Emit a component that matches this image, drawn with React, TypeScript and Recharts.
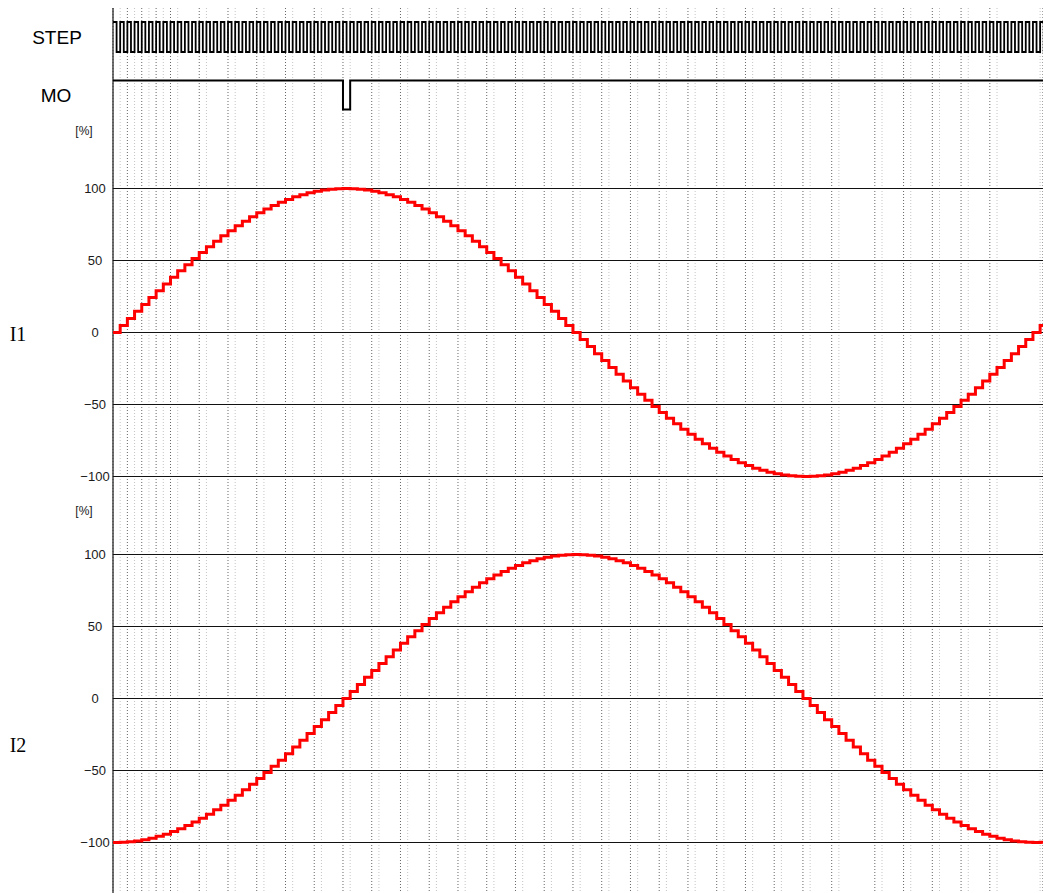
import { LineChart, Line, XAxis, YAxis, CartesianGrid, ReferenceLine } from "recharts";

// coil current in % for microstep k = 0..130 (1/32 step, one STEP pulse per microstep)
const I1_PERCENT = [
  0, 4.9, 9.8, 14.7, 19.5, 24.3, 29.0, 33.7, 38.3, 42.8, 47.1, 51.4, 55.6, 59.6, 63.4, 67.2,
  70.7, 74.1, 77.3, 80.3, 83.1, 85.8, 88.2, 90.4, 92.4, 94.2, 95.7, 97.0, 98.1, 98.9, 99.5, 99.9,
  100, 99.9, 99.5, 98.9, 98.1, 97.0, 95.7, 94.2, 92.4, 90.4, 88.2, 85.8, 83.1, 80.3, 77.3, 74.1,
  70.7, 67.2, 63.4, 59.6, 55.6, 51.4, 47.1, 42.8, 38.3, 33.7, 29.0, 24.3, 19.5, 14.7, 9.8, 4.9,
  0, -4.9, -9.8, -14.7, -19.5, -24.3, -29.0, -33.7, -38.3, -42.8, -47.1, -51.4, -55.6, -59.6, -63.4, -67.2,
  -70.7, -74.1, -77.3, -80.3, -83.1, -85.8, -88.2, -90.4, -92.4, -94.2, -95.7, -97.0, -98.1, -98.9, -99.5, -99.9,
  -100, -99.9, -99.5, -98.9, -98.1, -97.0, -95.7, -94.2, -92.4, -90.4, -88.2, -85.8, -83.1, -80.3, -77.3, -74.1,
  -70.7, -67.2, -63.4, -59.6, -55.6, -51.4, -47.1, -42.8, -38.3, -33.7, -29.0, -24.3, -19.5, -14.7, -9.8, -4.9,
  0, 4.9, 9.8,
];

const I2_PERCENT = [
  -100, -99.9, -99.5, -98.9, -98.1, -97.0, -95.7, -94.2, -92.4, -90.4, -88.2, -85.8, -83.1, -80.3, -77.3, -74.1,
  -70.7, -67.2, -63.4, -59.6, -55.6, -51.4, -47.1, -42.8, -38.3, -33.7, -29.0, -24.3, -19.5, -14.7, -9.8, -4.9,
  0, 4.9, 9.8, 14.7, 19.5, 24.3, 29.0, 33.7, 38.3, 42.8, 47.1, 51.4, 55.6, 59.6, 63.4, 67.2,
  70.7, 74.1, 77.3, 80.3, 83.1, 85.8, 88.2, 90.4, 92.4, 94.2, 95.7, 97.0, 98.1, 98.9, 99.5, 99.9,
  100, 99.9, 99.5, 98.9, 98.1, 97.0, 95.7, 94.2, 92.4, 90.4, 88.2, 85.8, 83.1, 80.3, 77.3, 74.1,
  70.7, 67.2, 63.4, 59.6, 55.6, 51.4, 47.1, 42.8, 38.3, 33.7, 29.0, 24.3, 19.5, 14.7, 9.8, 4.9,
  0, -4.9, -9.8, -14.7, -19.5, -24.3, -29.0, -33.7, -38.3, -42.8, -47.1, -51.4, -55.6, -59.6, -63.4, -67.2,
  -70.7, -74.1, -77.3, -80.3, -83.1, -85.8, -88.2, -90.4, -92.4, -94.2, -95.7, -97.0, -98.1, -98.9, -99.5, -99.9,
  -100, -99.9, -99.5,
];

// STEP: high for the first half of every microstep
const STEP_PATTERN = [1, 0];
const STEP_PULSES = 131;

// MO goes low for one microstep at k = 32
const MO_EDGES = [0, 32, 33, 131];
const MO_LEVELS = [1, 0, 1, 1];

const CURRENT_TICKS = [-100, -50, 0, 50, 100];

// layout
const W = 1043;
const H = 893;
const PLOT_LEFT = 113;
const PLOT_TOP = 8;
const STEP_PX = 7.187;
const X_MAX = (W - PLOT_LEFT) / STEP_PX;

// domain so that value 0 lands on pixel zeroY, pxPerUnit pixels per unit
function bandDomain(zeroY: number, pxPerUnit: number): [number, number] {
  return [-(H - zeroY) / pxPerUnit, (zeroY - PLOT_TOP) / pxPerUnit];
}

const currentData = I1_PERCENT.map((i1, k) => ({ k, i1, i2: I2_PERCENT[k] }));

const stepData: { k: number; step: number }[] = [];
for (let p = 0; p < STEP_PULSES; p++) {
  STEP_PATTERN.forEach((level, i) => stepData.push({ k: p + i / STEP_PATTERN.length, step: level }));
}

const moData = MO_EDGES.map((k, i) => ({ k, mo: MO_LEVELS[i] }));

const majorGrid = currentData.filter((d) => d.k % 2 === 0).map((d) => d.k);
const minorGrid = currentData.filter((d) => d.k % 2 === 1).map((d) => d.k);

const SANS = "'Liberation Sans', Arial, sans-serif";
const SERIF = "'Liberation Serif', 'Times New Roman', serif";

function fmtTick(v: number) {
  return v < 0 ? `\u2212${Math.abs(v)}` : `${v}`;
}

function sideText(text: string, dx: number, style: Record<string, any>) {
  return (props: any) => {
    const vb = props.viewBox || {};
    return (
      <text
        x={vb.x - dx}
        y={vb.y}
        textAnchor="middle"
        dominantBaseline="central"
        {...style}
      >
        {text}
      </text>
    );
  };
}

const tickStyle = { fontSize: 13, fill: "#1a1a1a", fontFamily: SANS };
const unitStyle = { fontSize: 12, fill: "#1a1a1a", fontFamily: SANS };
const nameStyle = { fontSize: 19, fill: "#000", fontFamily: SANS };
const coilStyle = { fontSize: 20, fill: "#000", fontFamily: SERIF };

function currentRefs(axisId: string, unitAt: number, name: string, nameAt: number) {
  return [
    ...CURRENT_TICKS.map((v) => (
      <ReferenceLine
        key={`${axisId}-${v}`}
        yAxisId={axisId}
        y={v}
        stroke="#111"
        strokeWidth={1}
        label={sideText(fmtTick(v), 18, tickStyle)}
      />
    )),
    <ReferenceLine
      key={`${axisId}-unit`}
      yAxisId={axisId}
      y={unitAt}
      stroke="none"
      label={sideText("[%]", 29, unitStyle)}
    />,
    <ReferenceLine
      key={`${axisId}-name`}
      yAxisId={axisId}
      y={nameAt}
      stroke="none"
      label={sideText(name, 95, coilStyle)}
    />,
  ];
}

export default function App() {
  return (
    <div style={{ position: "absolute", left: 0, top: 0, width: W, height: H, background: "#fff" }}>
      <LineChart width={W} height={H} margin={{ top: PLOT_TOP, right: 0, bottom: 0, left: PLOT_LEFT }}>
        <XAxis dataKey="k" type="number" domain={[0, X_MAX]} allowDataOverflow ticks={majorGrid} hide />
        <XAxis xAxisId="minor" dataKey="k" type="number" domain={[0, X_MAX]} allowDataOverflow ticks={minorGrid} hide />
        <YAxis yAxisId="step" type="number" domain={bandDomain(52, 30)} allowDataOverflow hide />
        <YAxis yAxisId="mo" type="number" domain={bandDomain(109.5, 29)} allowDataOverflow hide />
        <YAxis yAxisId="i1" type="number" domain={bandDomain(332.5, 1.44)} allowDataOverflow hide />
        <YAxis yAxisId="i2" type="number" domain={bandDomain(698.5, 1.44)} allowDataOverflow hide />

        <CartesianGrid xAxisId="minor" yAxisId="i1" horizontal={false} stroke="#c4c4c4" strokeDasharray="1 2" />
        <CartesianGrid yAxisId="i1" horizontal={false} stroke="#666" strokeDasharray="1 2" />

        <ReferenceLine yAxisId="i1" x={0} stroke="#444" strokeWidth={1.5} />

        <ReferenceLine yAxisId="step" y={0.5} stroke="none" label={sideText("STEP", 56, nameStyle)} />
        <ReferenceLine yAxisId="mo" y={0.5} stroke="none" label={sideText("MO", 57, nameStyle)} />

        {currentRefs("i1", 140, "I1", -1)}
        {currentRefs("i2", 130, "I2", -32)}

        <Line
          yAxisId="step"
          data={stepData}
          dataKey="step"
          type="stepAfter"
          stroke="#000"
          strokeWidth={1.8}
          dot={false}
          isAnimationActive={false}
        />
        <Line
          yAxisId="mo"
          data={moData}
          dataKey="mo"
          type="stepAfter"
          stroke="#000"
          strokeWidth={2}
          dot={false}
          isAnimationActive={false}
        />
        <Line
          yAxisId="i1"
          data={currentData}
          dataKey="i1"
          type="stepAfter"
          stroke="#ff0000"
          strokeWidth={3}
          dot={false}
          isAnimationActive={false}
        />
        <Line
          yAxisId="i2"
          data={currentData}
          dataKey="i2"
          type="stepAfter"
          stroke="#ff0000"
          strokeWidth={3}
          dot={false}
          isAnimationActive={false}
        />
      </LineChart>
    </div>
  );
}
